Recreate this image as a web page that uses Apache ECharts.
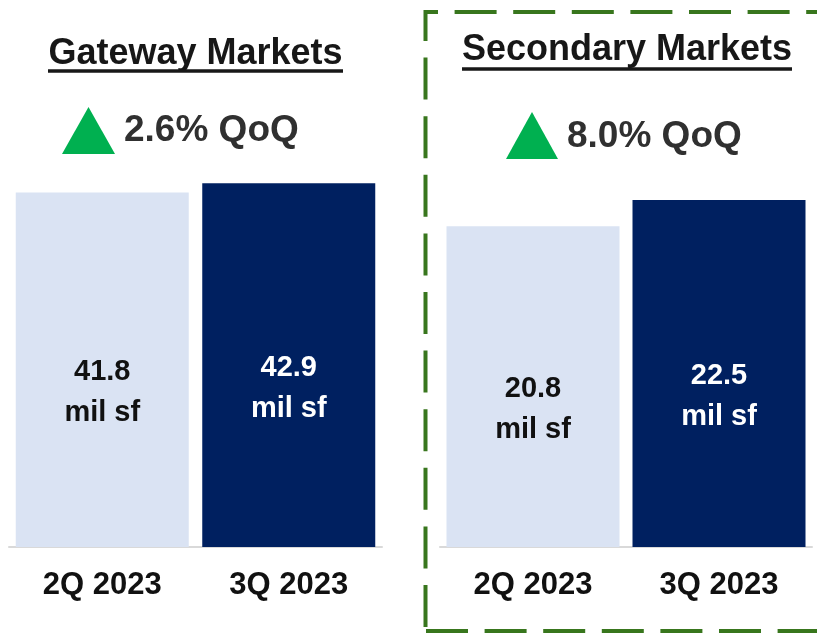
<!DOCTYPE html>
<html>
<head>
<meta charset="utf-8">
<script src="https://cdn.jsdelivr.net/npm/echarts@6/dist/echarts.min.js"></script>
<style>
  html, body { margin: 0; padding: 0; background: #fff; }
  #main { width: 817px; height: 633px; }
</style>
</head>
<body>
<div id="main"></div>
<script>
// data
var categories = ["2Q 2023", "3Q 2023"];
var gatewayValues = [41.8, 42.9];
var secondaryValues = [20.8, 22.5];
var panelTitles = ["Gateway Markets", "Secondary Markets"];
var qoqLabels = ["2.6% QoQ", "8.0% QoQ"];
var unitLabel = "mil sf";

var FONT = "'Liberation Sans', Arial, sans-serif";
var barColors = ["#dae3f3", "#002060"];
var labelColors = ["#111111", "#ffffff"];
var boxGreen = "#38761d";

function barData(values) {
  return values.map(function (v, i) {
    return {
      value: v,
      itemStyle: { color: barColors[i] },
      label: { color: labelColors[i] }
    };
  });
}

function xAxisFor(idx) {
  return {
    type: "category",
    gridIndex: idx,
    data: categories,
    axisTick: { show: false },
    axisLine: { lineStyle: { color: "#d9d9d9", width: 2 } },
    axisLabel: {
      color: "#111111",
      fontFamily: FONT,
      fontWeight: "bold",
      fontSize: 31,
      margin: 23
    }
  };
}

function seriesFor(idx, values) {
  return {
    type: "bar",
    xAxisIndex: idx,
    yAxisIndex: idx,
    barWidth: 173,
    data: barData(values),
    label: {
      show: true,
      position: "inside",
      offset: [0, 23],
      fontFamily: FONT,
      fontWeight: "bold",
      fontSize: 29,
      lineHeight: 41,
      formatter: function (p) {
        return p.value.toFixed(1) + "\n" + unitLabel;
      }
    }
  };
}

var titleStyle = {
  font: "bold 36px " + FONT,
  fill: "#171717",
  textAlign: "center",
  textVerticalAlign: "middle"
};
var qoqStyle = {
  font: "bold 37px " + FONT,
  fill: "#303030",
  textAlign: "left",
  textVerticalAlign: "middle"
};

var myChart = echarts.init(document.getElementById("main"));
myChart.setOption({
  animation: false,
  grid: [
    { left: 9, width: 373, top: 123, bottom: 86 },
    { left: 440, width: 372, top: 123, bottom: 86 }
  ],
  xAxis: [xAxisFor(0), xAxisFor(1)],
  yAxis: [
    { type: "value", gridIndex: 0, min: 0, max: 50, show: false },
    { type: "value", gridIndex: 1, min: 0, max: 27.5, show: false }
  ],
  series: [seriesFor(0, gatewayValues), seriesFor(1, secondaryValues)],
  graphic: [
    // titles + underlines
    { type: "text", x: 195.5, y: 54, style: Object.assign({ text: panelTitles[0] }, titleStyle) },
    { type: "line", shape: { x1: 48, y1: 71, x2: 343, y2: 71 }, style: { stroke: "#171717", lineWidth: 3.5 } },
    { type: "text", x: 627, y: 50, style: Object.assign({ text: panelTitles[1] }, titleStyle) },
    { type: "line", shape: { x1: 462, y1: 69, x2: 792, y2: 69 }, style: { stroke: "#171717", lineWidth: 3.5 } },
    // QoQ arrows
    { type: "polygon", shape: { points: [[62, 154], [115, 154], [88.5, 107]] }, style: { fill: "#00b050" } },
    { type: "text", x: 124, y: 131, style: Object.assign({ text: qoqLabels[0] }, qoqStyle) },
    { type: "polygon", shape: { points: [[506, 159], [558, 159], [532, 112]] }, style: { fill: "#00b050" } },
    { type: "text", x: 567, y: 137, style: Object.assign({ text: qoqLabels[1] }, qoqStyle) },
    // dashed box around secondary markets
    { type: "line", shape: { x1: 424, y1: 12, x2: 830, y2: 12 },
      style: { stroke: boxGreen, lineWidth: 4, lineDash: [42, 16.6], lineDashOffset: 28 } },
    { type: "line", shape: { x1: 425.5, y1: 10, x2: 425.5, y2: 633 },
      style: { stroke: boxGreen, lineWidth: 4, lineDash: [42, 16.6], lineDashOffset: 11 } },
    { type: "line", shape: { x1: 424, y1: 631, x2: 830, y2: 631 },
      style: { stroke: boxGreen, lineWidth: 4, lineDash: [42, 16.6], lineDashOffset: 56.6 } }
  ]
});
</script>
</body>
</html>
